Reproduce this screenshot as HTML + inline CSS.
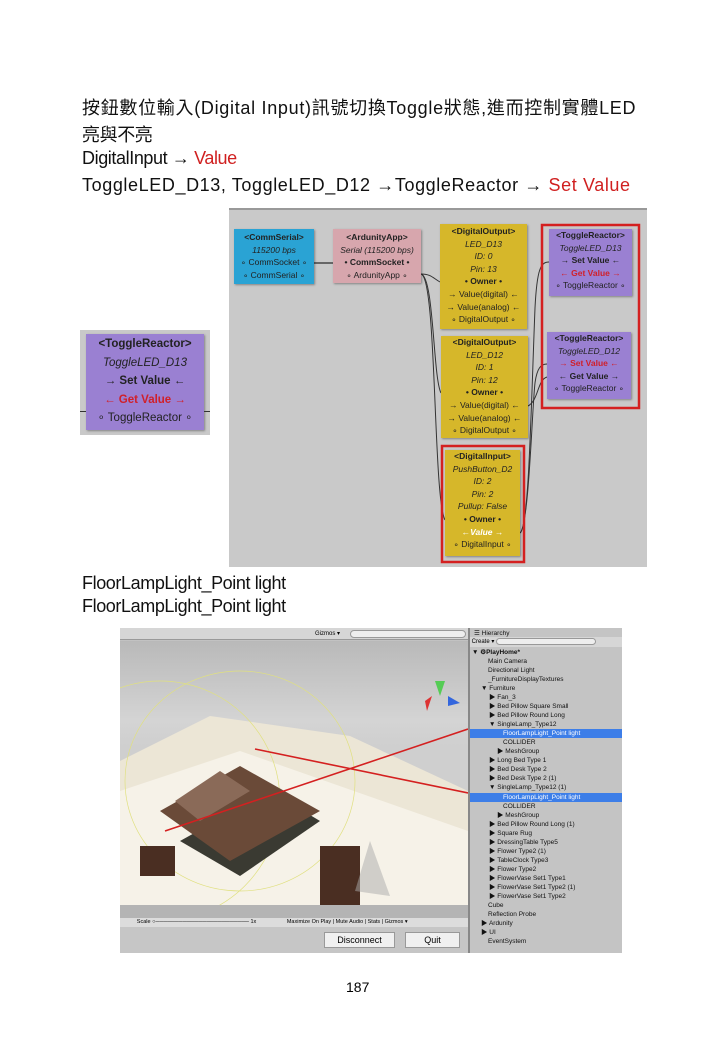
<!DOCTYPE html>
<html><head><meta charset="utf-8"><style>
*{margin:0;padding:0;box-sizing:border-box}
body{width:720px;height:1040px;background:#fff;position:relative;overflow:hidden;font-family:"Liberation Sans","Noto Sans CJK TC",sans-serif}
.t{position:absolute;left:82px;font-size:18px;color:#111;white-space:nowrap;letter-spacing:-0.4px}
.r{color:#d02020}
.a{position:absolute}
.node{position:absolute;font-size:8.5px;text-align:center;line-height:12.6px;color:#222;box-shadow:1px 1px 2px rgba(0,0,0,.35)}
.node b{display:block}
.node i{display:block}
.node .h{font-weight:bold;border-bottom:1px solid rgba(0,0,0,.15)}
.blue{background:#2aa3d4}.pink{background:#d7a6ad}.yel{background:#d6b72a}.pur{background:#9a80d2}
.rd{color:#d0202a;font-weight:bold}
.hr{position:absolute;left:0;font-size:6.5px;color:#111;white-space:nowrap;line-height:9px}
.sel{background:#3d7ee8;color:#fff;width:152px}
</style></head><body>
<div class="t" style="top:94px;letter-spacing:0.7px">按鈕數位輸入(Digital Input)訊號切換Toggle狀態,進而控制實體LED</div>
<div class="t" style="top:121px">亮與不亮</div>
<div class="t" style="top:148px">DigitalInput → <span class="r">Value</span></div>
<div class="t" style="top:175px;letter-spacing:0.6px">ToggleLED_D13, ToggleLED_D12 →ToggleReactor → <span class="r">Set Value</span></div>

<!-- diagram panel -->
<div class="a" style="left:229px;top:208px;width:418px;height:359px;background:#c9c9c9;border-top:2px solid #999"></div>
<svg class="a" style="left:229px;top:208px" width="418" height="359">
<g fill="none" stroke="#333" stroke-width="1">
<line x1="85" y1="55" x2="104" y2="55" stroke-width="2" stroke="#666"/>
<path d="M192 66 C202 66,204 70,211 74"/>
<path d="M192 66 C205 68,204 170,212 185"/>
<path d="M192 66 C208 70,204 290,216 312"/>
<path d="M291 325 C300 320,302 200,306 100 C308 60,312 54,320 54"/>
<path d="M291 325 C300 318,303 200,306 175 C308 160,312 156,318 156"/>
<path d="M299 198 C310 192,308 172,318 169"/>
</g>
<rect x="213" y="238" width="82" height="116" fill="none" stroke="#d42020" stroke-width="2.5"/>
<rect x="313" y="17" width="97" height="183" fill="none" stroke="#d42020" stroke-width="2.5"/>
</svg>
<div class="node blue" style="left:234px;top:229px;width:80px;height:55px;padding-top:2px"><b class="h" style="border:0">&lt;CommSerial&gt;</b><i>115200 bps</i>∘ CommSocket ∘<br>∘ CommSerial ∘</div>
<div class="node pink" style="left:333px;top:229px;width:88px;height:54px;padding-top:2px"><b style="border:0">&lt;ArdunityApp&gt;</b><i>Serial (115200 bps)</i><b>• CommSocket •</b>∘ ArdunityApp ∘</div>
<div class="node yel" style="left:440px;top:224px;width:87px;height:105px;padding-top:1px"><b>&lt;DigitalOutput&gt;</b><i>LED_D13</i><i>ID: 0</i><i>Pin: 13</i><b>• Owner •</b>→ Value(digital) ←<br>→ Value(analog) ←<br>∘ DigitalOutput ∘</div>
<div class="node yel" style="left:441px;top:336px;width:87px;height:102px;padding-top:0"><b>&lt;DigitalOutput&gt;</b><i>LED_D12</i><i>ID: 1</i><i>Pin: 12</i><b>• Owner •</b>→ Value(digital) ←<br>→ Value(analog) ←<br>∘ DigitalOutput ∘</div>
<div class="node yel" style="left:445px;top:450px;width:75px;height:106px;padding-top:0"><b>&lt;DigitalInput&gt;</b><i>PushButton_D2</i><i>ID: 2</i><i>Pin: 2</i><i>Pullup: False</i><b>• Owner •</b><b style="color:#fff;font-style:italic">←Value →</b>∘ DigitalInput ∘</div>
<div class="node pur" style="left:549px;top:229px;width:83px;height:67px;padding-top:0"><b>&lt;ToggleReactor&gt;</b><i>ToggleLED_D13</i><b>→ Set Value ←</b><span class="rd">← Get Value →</span><br>∘ ToggleReactor ∘</div>
<div class="node pur" style="left:547px;top:332px;width:84px;height:67px;padding-top:0"><b>&lt;ToggleReactor&gt;</b><i>ToggleLED_D12</i><span class="rd">→ Set Value ←</span><br><b>← Get Value →</b>∘ ToggleReactor ∘</div>

<!-- inset -->
<div class="a" style="left:80px;top:330px;width:130px;height:105px;background:#c9c9c9"></div>
<div class="node pur" style="left:86px;top:334px;width:118px;height:96px;font-size:11.5px;line-height:18.5px;padding-top:1px"><b>&lt;ToggleReactor&gt;</b><i>ToggleLED_D13</i><b>→ Set Value ←</b><span class="rd">← Get Value →</span><br>∘ ToggleReactor ∘</div>
<div class="a" style="left:80px;top:411px;width:6px;height:1px;background:#333"></div>
<div class="a" style="left:204px;top:411px;width:6px;height:1px;background:#333"></div>

<div class="t" style="top:573px">FloorLampLight_Point light</div>
<div class="t" style="top:596px">FloorLampLight_Point light</div>

<!-- unity screenshot -->
<div class="a" style="left:120px;top:628px;width:502px;height:325px;background:#c2c2c2;overflow:hidden">
 <div class="a" style="left:0;top:0;width:348px;height:12px;background:#d6d6d6;border-bottom:1px solid #999"></div>
 <div class="a" style="left:195px;top:2px;font-size:6px">Gizmos ▾</div>
 <div class="a" style="left:230px;top:2px;width:116px;height:8px;border:1px solid #999;border-radius:4px;background:#eee"></div>
 <div class="a" style="left:0;top:13px;width:348px;height:264px;background:linear-gradient(#b9b9b9,#d4d4d4 30%,#cfcfcf 40%)"></div>
 <svg class="a" style="left:0;top:13px" width="348" height="264">
  <polygon points="0,120 90,75 230,95 348,150 348,264 0,264" fill="#ece6d6"/>
  <polygon points="0,150 120,110 348,190 348,264 0,264" fill="#f6f2e8"/>
  <ellipse cx="120" cy="140" rx="115" ry="110" fill="none" stroke="#e0e080" stroke-width="0.7"/>
  <ellipse cx="40" cy="160" rx="120" ry="120" fill="none" stroke="#e0e080" stroke-width="0.7"/>
  <polygon points="60,200 150,150 200,180 120,235" fill="#3a3a32"/>
  <polygon points="40,170 120,125 200,170 110,220" fill="#6a4a38"/>
  <polygon points="55,160 100,130 130,150 80,180" fill="#8a6a58"/>
  <rect x="20" y="205" width="35" height="30" fill="#4a2e22"/>
  <rect x="200" y="205" width="40" height="60" fill="#4a2e22"/>
  <polygon points="235,250 250,200 270,255" fill="#aaa" opacity=".5"/>
  <line x1="348" y1="88" x2="45" y2="190" stroke="#d42020" stroke-width="1.6"/>
  <line x1="348" y1="152" x2="135" y2="108" stroke="#d42020" stroke-width="1.6"/>
  <polygon points="315,40 320,55 325,40" fill="#5c5"/><polygon points="305,60 312,55 307,70" fill="#d33"/><polygon points="328,55 340,62 328,65" fill="#36d"/>
 </svg>
 <div class="a" style="left:0;top:277px;width:348px;height:13px;background:#b4b4b4"></div>
 <div class="a" style="left:0;top:290px;width:348px;height:9px;background:#dcdcdc;font-size:5.5px;line-height:9px;white-space:nowrap">&nbsp;&nbsp;&nbsp;&nbsp;&nbsp;&nbsp;&nbsp;&nbsp;&nbsp;&nbsp;&nbsp;Scale ○──────────────────────── 1x&nbsp;&nbsp;&nbsp;&nbsp;&nbsp;&nbsp;&nbsp;&nbsp;&nbsp;&nbsp;&nbsp;&nbsp;&nbsp;&nbsp;&nbsp;&nbsp;&nbsp;&nbsp;&nbsp; Maximize On Play | Mute Audio | Stats | Gizmos ▾</div>
 <div class="a" style="left:0;top:299px;width:348px;height:26px;background:#c6c6c6"></div>
 <div class="a" style="left:204px;top:304px;width:71px;height:16px;background:#f0f0f0;border:1px solid #999;font-size:9px;text-align:center;line-height:14px">Disconnect</div>
 <div class="a" style="left:285px;top:304px;width:55px;height:16px;background:#f0f0f0;border:1px solid #999;font-size:9px;text-align:center;line-height:14px">Quit</div>
 <div class="a" style="left:348px;top:0;width:2px;height:325px;background:#888"></div>
 <div class="a" style="left:350px;top:0;width:152px;height:325px;background:#c4c4c4">
  <div class="hr" style="top:1px;left:4px">☰ Hierarchy</div>
  <div class="a" style="left:0;top:9px;width:152px;height:10px;background:#d6d6d6;font-size:6px;line-height:10px">&nbsp;Create ▾ <span style="display:inline-block;width:100px;height:7px;border:1px solid #999;border-radius:4px;background:#eee;vertical-align:middle"></span></div>
  <div class="hr" style="top:20px;left:2px;font-weight:bold">▼ ⚙PlayHome*</div>
  <div class="hr" style="top:29px;left:18px">Main Camera</div>
  <div class="hr" style="top:38px;left:18px">Directional Light</div>
  <div class="hr" style="top:47px;left:18px">_FurnitureDisplayTextures</div>
  <div class="hr" style="top:56px;left:11px">▼ Furniture</div>
  <div class="hr" style="top:65px;left:19px">▶ Fan_3</div>
  <div class="hr" style="top:74px;left:19px">▶ Bed Pillow Square Small</div>
  <div class="hr" style="top:83px;left:19px">▶ Bed Pillow Round Long</div>
  <div class="hr" style="top:92px;left:19px">▼ SingleLamp_Type12</div>
  <div class="hr sel" style="top:101px;padding-left:33px">FloorLampLight_Point light</div>
  <div class="hr" style="top:110px;left:33px">COLLIDER</div>
  <div class="hr" style="top:119px;left:27px">▶ MeshGroup</div>
  <div class="hr" style="top:128px;left:19px">▶ Long Bed Type 1</div>
  <div class="hr" style="top:137px;left:19px">▶ Bed Desk Type 2</div>
  <div class="hr" style="top:146px;left:19px">▶ Bed Desk Type 2 (1)</div>
  <div class="hr" style="top:155px;left:19px">▼ SingleLamp_Type12 (1)</div>
  <div class="hr sel" style="top:165px;padding-left:33px">FloorLampLight_Point light</div>
  <div class="hr" style="top:174px;left:33px">COLLIDER</div>
  <div class="hr" style="top:183px;left:27px">▶ MeshGroup</div>
  <div class="hr" style="top:192px;left:19px">▶ Bed Pillow Round Long (1)</div>
  <div class="hr" style="top:201px;left:19px">▶ Square Rug</div>
  <div class="hr" style="top:210px;left:19px">▶ DressingTable Type5</div>
  <div class="hr" style="top:219px;left:19px">▶ Flower Type2 (1)</div>
  <div class="hr" style="top:228px;left:19px">▶ TableClock Type3</div>
  <div class="hr" style="top:237px;left:19px">▶ Flower Type2</div>
  <div class="hr" style="top:246px;left:19px">▶ FlowerVase Set1 Type1</div>
  <div class="hr" style="top:255px;left:19px">▶ FlowerVase Set1 Type2 (1)</div>
  <div class="hr" style="top:264px;left:19px">▶ FlowerVase Set1 Type2</div>
  <div class="hr" style="top:273px;left:18px">Cube</div>
  <div class="hr" style="top:282px;left:18px">Reflection Probe</div>
  <div class="hr" style="top:291px;left:11px">▶ Ardunity</div>
  <div class="hr" style="top:300px;left:11px">▶ UI</div>
  <div class="hr" style="top:309px;left:18px">EventSystem</div>
 </div>
</div>

<div class="a" style="left:346px;top:979px;font-size:14px">187</div>
</body></html>
